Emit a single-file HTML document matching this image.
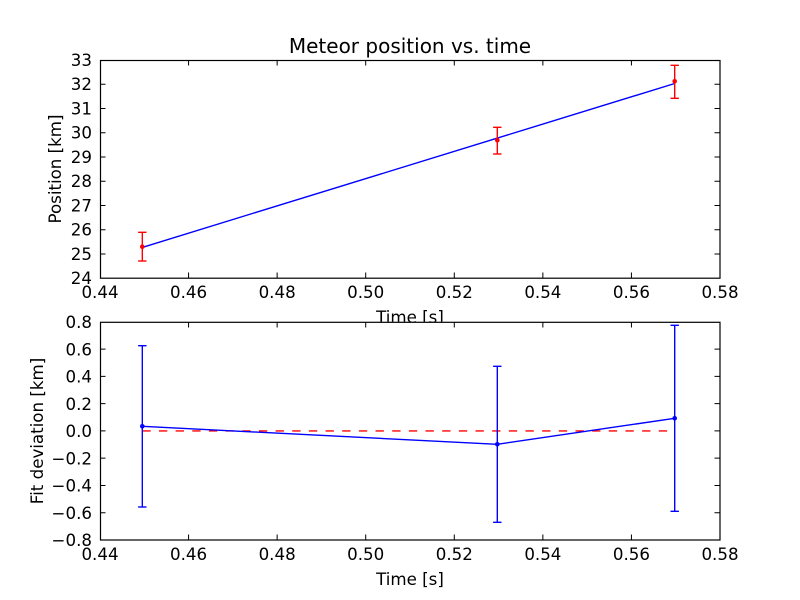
<!DOCTYPE html>
<html><head><meta charset="utf-8"><style>
html,body{margin:0;padding:0;background:#fff;}
svg{display:block;}
text{font-family:"DejaVu Sans","Liberation Sans",sans-serif;fill:#000;}
</style></head><body>
<svg width="800" height="600" viewBox="0 0 800 600" xmlns="http://www.w3.org/2000/svg">
<rect x="0" y="0" width="800" height="600" fill="#fff"/>

<!-- ===== TOP AXES ===== -->
<text x="410" y="53" font-size="20" text-anchor="middle">Meteor position vs. time</text>
<text x="410" y="323" font-size="16.67" text-anchor="middle">Time [s]</text>
<text transform="translate(61,169) rotate(-90)" font-size="16.67" text-anchor="middle">Position [km]</text>
<rect x="100" y="60" width="620" height="218.18" fill="#fff"/>

<!-- fit line -->
<polyline points="142.3,247.4 674.7,83.5" fill="none" stroke="#0000ff" stroke-width="1.39"/>
<!-- red error bars -->
<g stroke="#ff0000" stroke-width="1.39" fill="none">
  <line x1="142.3" y1="232.3" x2="142.3" y2="261"/>
  <line x1="138.1" y1="232.3" x2="146.5" y2="232.3"/>
  <line x1="138.1" y1="261" x2="146.5" y2="261"/>
  <line x1="497.3" y1="127.3" x2="497.3" y2="154"/>
  <line x1="493.1" y1="127.3" x2="501.5" y2="127.3"/>
  <line x1="493.1" y1="154" x2="501.5" y2="154"/>
  <line x1="674.7" y1="65.3" x2="674.7" y2="98.3"/>
  <line x1="670.5" y1="65.3" x2="678.9" y2="65.3"/>
  <line x1="670.5" y1="98.3" x2="678.9" y2="98.3"/>
</g>
<g fill="#ff0000">
  <circle cx="142.3" cy="246.7" r="2.3"/>
  <circle cx="497.3" cy="140.3" r="2.3"/>
  <circle cx="674.7" cy="81.3" r="2.3"/>
</g>

<!-- frame -->
<rect x="100.5" y="60.5" width="619.5" height="217.7" fill="none" stroke="#000" stroke-width="1.2"/>
<!-- ticks -->
<g stroke="#000" stroke-width="1">
  <path d="M188.57,278 v-5.5 M277.14,278 v-5.5 M365.71,278 v-5.5 M454.29,278 v-5.5 M542.86,278 v-5.5 M631.43,278 v-5.5
           M188.57,60 v5.5 M277.14,60 v5.5 M365.71,60 v5.5 M454.29,60 v5.5 M542.86,60 v5.5 M631.43,60 v5.5"/>
  <path d="M100,253.94 h5.5 M100,229.7 h5.5 M100,205.45 h5.5 M100,181.21 h5.5 M100,156.97 h5.5 M100,132.73 h5.5 M100,108.48 h5.5 M100,84.24 h5.5
           M720,253.94 h-5.5 M720,229.7 h-5.5 M720,205.45 h-5.5 M720,181.21 h-5.5 M720,156.97 h-5.5 M720,132.73 h-5.5 M720,108.48 h-5.5 M720,84.24 h-5.5"/>
</g>
<g font-size="16.67" text-anchor="middle">
  <text x="100" y="298">0.44</text>
  <text x="188.57" y="298">0.46</text>
  <text x="277.14" y="298">0.48</text>
  <text x="365.71" y="298">0.50</text>
  <text x="454.29" y="298">0.52</text>
  <text x="542.86" y="298">0.54</text>
  <text x="631.43" y="298">0.56</text>
  <text x="720" y="298">0.58</text>
</g>
<g font-size="16.67" text-anchor="end">
  <text x="92" y="284.2">24</text>
  <text x="92" y="259.9">25</text>
  <text x="92" y="235.7">26</text>
  <text x="92" y="211.5">27</text>
  <text x="92" y="187.2">28</text>
  <text x="92" y="163">29</text>
  <text x="92" y="138.7">30</text>
  <text x="92" y="114.5">31</text>
  <text x="92" y="90.2">32</text>
  <text x="92" y="66">33</text>
</g>

<!-- ===== BOTTOM AXES ===== -->
<rect x="100" y="321.82" width="620" height="218.18" fill="#fff"/>
<text x="410" y="585" font-size="16.67" text-anchor="middle">Time [s]</text>
<text transform="translate(43,431) rotate(-90)" font-size="16.67" text-anchor="middle">Fit deviation [km]</text>

<!-- zero dashed -->
<line x1="142.3" y1="430.91" x2="674.7" y2="430.91" stroke="#ff0000" stroke-width="1.39" stroke-dasharray="8.33,8.33"/>
<!-- blue error bars -->
<g stroke="#0000ff" stroke-width="1.39" fill="none">
  <line x1="142.3" y1="345.7" x2="142.3" y2="507"/>
  <line x1="138.1" y1="345.7" x2="146.5" y2="345.7"/>
  <line x1="138.1" y1="507" x2="146.5" y2="507"/>
  <line x1="497.3" y1="366.3" x2="497.3" y2="522.3"/>
  <line x1="493.1" y1="366.3" x2="501.5" y2="366.3"/>
  <line x1="493.1" y1="522.3" x2="501.5" y2="522.3"/>
  <line x1="674.7" y1="325.3" x2="674.7" y2="511.3"/>
  <line x1="670.5" y1="325.3" x2="678.9" y2="325.3"/>
  <line x1="670.5" y1="511.3" x2="678.9" y2="511.3"/>
  <polyline points="142.3,426.3 497.3,444.3 674.7,418.3"/>
</g>
<g fill="#0000ff">
  <circle cx="142.3" cy="426.3" r="2.3"/>
  <circle cx="497.3" cy="444.3" r="2.3"/>
  <circle cx="674.7" cy="418.3" r="2.3"/>
</g>

<rect x="100.5" y="322.3" width="619.5" height="217.7" fill="none" stroke="#000" stroke-width="1.2"/>
<g stroke="#000" stroke-width="1">
  <path d="M188.57,540 v-5.5 M277.14,540 v-5.5 M365.71,540 v-5.5 M454.29,540 v-5.5 M542.86,540 v-5.5 M631.43,540 v-5.5
           M188.57,322 v5.5 M277.14,322 v5.5 M365.71,322 v5.5 M454.29,322 v5.5 M542.86,322 v5.5 M631.43,322 v5.5"/>
  <path d="M100,349.09 h5.5 M100,376.36 h5.5 M100,403.64 h5.5 M100,430.91 h5.5 M100,458.18 h5.5 M100,485.45 h5.5 M100,512.73 h5.5
           M720,349.09 h-5.5 M720,376.36 h-5.5 M720,403.64 h-5.5 M720,430.91 h-5.5 M720,458.18 h-5.5 M720,485.45 h-5.5 M720,512.73 h-5.5"/>
</g>
<g font-size="16.67" text-anchor="middle">
  <text x="100" y="560">0.44</text>
  <text x="188.57" y="560">0.46</text>
  <text x="277.14" y="560">0.48</text>
  <text x="365.71" y="560">0.50</text>
  <text x="454.29" y="560">0.52</text>
  <text x="542.86" y="560">0.54</text>
  <text x="631.43" y="560">0.56</text>
  <text x="720" y="560">0.58</text>
</g>
<g font-size="16.67" text-anchor="end">
  <text x="92" y="328">0.8</text>
  <text x="92" y="355.3">0.6</text>
  <text x="92" y="382.6">0.4</text>
  <text x="92" y="409.8">0.2</text>
  <text x="92" y="437.1">0.0</text>
  <text x="92" y="464.4">−0.2</text>
  <text x="92" y="491.6">−0.4</text>
  <text x="92" y="518.9">−0.6</text>
  <text x="92" y="546.2">−0.8</text>
</g>
</svg>
</body></html>
